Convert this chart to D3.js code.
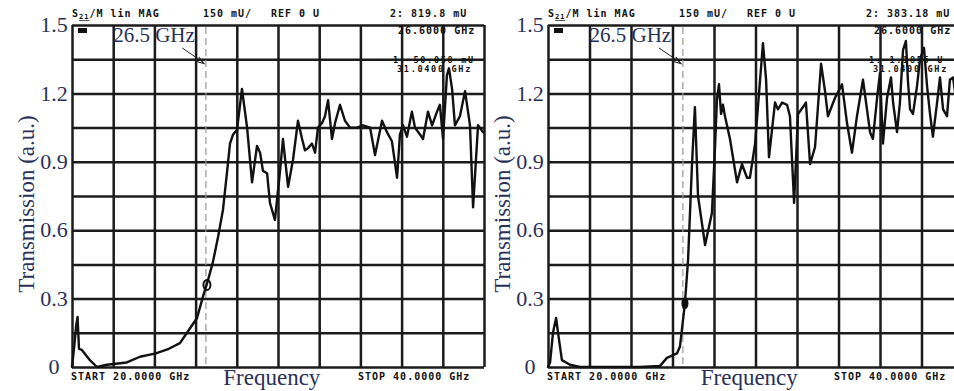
<!DOCTYPE html>
<html>
<head>
<meta charset="utf-8">
<script src="https://cdn.jsdelivr.net/npm/d3@7"></script>
<style>
  html, body { margin: 0; padding: 0; background: #fff; }
  svg { display: block; }
  .serif { font-family: "Liberation Serif", "Times New Roman", serif; fill: #2a3159; }
  .vna { font-family: "DejaVu Sans Mono", monospace; font-weight: bold; font-size: 10px; letter-spacing: 1.0px; fill: #111; }
  .vna-small { font-family: "DejaVu Sans Mono", monospace; font-weight: bold; font-size: 8.5px; letter-spacing: 1.7px; fill: #111; }
</style>
</head>
<body>
<svg id="chart" width="954" height="391"></svg>
<script>
// Sweep 20–40 GHz, transmission in arbitrary units
const leftFreq = [20.00, 20.12, 20.20, 20.27, 20.34, 20.48, 20.87, 21.21, 21.70, 22.66, 23.30, 24.07, 24.70, 25.24, 25.73, 26.07, 26.36, 26.60, 26.84, 27.09, 27.33, 27.52, 27.67, 27.82, 28.01, 28.25, 28.50, 28.74, 28.98, 29.13, 29.27, 29.47, 29.61, 29.85, 30.10, 30.24, 30.49, 30.73, 30.97, 31.17, 31.31, 31.46, 31.65, 31.80, 31.94, 32.14, 32.28, 32.43, 32.62, 32.77, 33.01, 33.25, 33.50, 33.83, 34.13, 34.47, 34.71, 35.05, 35.29, 35.53, 35.78, 35.92, 36.07, 36.26, 36.50, 36.65, 36.89, 37.04, 37.28, 37.48, 37.72, 37.86, 38.01, 38.20, 38.30, 38.45, 38.59, 38.83, 39.08, 39.32, 39.47, 39.71, 39.95];
const leftTrans = [0.00, 0.10, 0.18, 0.22, 0.08, 0.075, 0.03, 0.00, 0.01, 0.02, 0.045, 0.06, 0.08, 0.105, 0.17, 0.215, 0.31, 0.38, 0.46, 0.57, 0.69, 0.85, 0.98, 1.02, 1.04, 1.22, 1.05, 0.81, 0.97, 0.94, 0.86, 0.85, 0.72, 0.645, 0.86, 1.00, 0.79, 0.91, 1.08, 1.00, 0.95, 0.96, 0.98, 0.94, 1.05, 1.07, 1.10, 1.17, 1.00, 1.07, 1.15, 1.08, 1.05, 1.05, 1.06, 1.05, 0.93, 1.08, 1.03, 0.99, 0.83, 1.02, 1.06, 1.01, 1.12, 1.05, 1.02, 1.00, 1.12, 1.06, 1.12, 1.15, 1.00, 1.28, 1.31, 1.22, 1.06, 1.10, 1.21, 1.06, 0.70, 1.06, 1.03];

const rightFreq = [20.00, 20.10, 20.24, 20.39, 20.53, 20.67, 21.06, 21.54, 22.51, 23.47, 24.43, 25.40, 25.73, 26.22, 26.36, 26.60, 26.75, 26.94, 27.08, 27.23, 27.57, 27.90, 28.05, 28.14, 28.24, 28.34, 28.43, 28.53, 28.77, 29.11, 29.35, 29.59, 29.73, 29.98, 30.22, 30.36, 30.51, 30.65, 30.94, 31.08, 31.28, 31.52, 31.66, 31.86, 32.05, 32.29, 32.43, 32.63, 32.87, 33.16, 33.35, 33.49, 33.83, 34.17, 34.41, 34.65, 34.89, 35.18, 35.52, 35.66, 35.86, 36.00, 36.14, 36.34, 36.53, 36.63, 36.82, 36.96, 37.11, 37.25, 37.35, 37.45, 37.59, 37.78, 37.93, 38.12, 38.27, 38.41, 38.55, 38.75, 38.89, 39.04, 39.23, 39.37, 39.52, 39.70];
const rightTrans = [0.00, 0.02, 0.15, 0.215, 0.12, 0.03, 0.01, 0.00, 0.00, 0.00, 0.00, 0.005, 0.04, 0.06, 0.09, 0.28, 0.47, 0.89, 1.14, 0.75, 0.535, 0.675, 0.965, 1.17, 1.24, 1.11, 1.15, 1.10, 1.00, 0.81, 0.89, 0.83, 0.83, 0.98, 1.26, 1.42, 1.26, 0.92, 1.16, 1.13, 1.16, 1.15, 1.10, 0.72, 1.11, 1.14, 1.16, 0.89, 0.965, 1.33, 1.21, 1.10, 1.18, 1.24, 1.07, 0.94, 1.10, 1.26, 1.03, 1.00, 1.18, 1.29, 0.98, 1.18, 1.27, 1.16, 1.03, 1.16, 1.39, 1.43, 1.25, 1.13, 1.11, 1.23, 1.35, 1.40, 1.23, 1.11, 1.01, 1.16, 1.27, 1.13, 1.10, 1.26, 1.27, 1.15];

const yTickValues = [0, 0.3, 0.6, 0.9, 1.2, 1.5];
const yTickLabels = ["0", "0.3", "0.6", "0.9", "1.2", "1.5"];
const gridY = [0, 0.15, 0.3, 0.45, 0.6, 0.75, 0.9, 1.05, 1.2, 1.35, 1.5];
const gridX = [20, 22, 24, 26, 28, 30, 32, 34, 36, 38, 40];
const bandEdge = 26.5;
const markerFreq = [26.55, 26.60];
const markerTrans = [0.36, 0.28];
const headerLeft = ["150 mU/", "REF 0 U"];
const headerMarker2 = ["2: 819.8 mU", "2: 383.18 mU"];
const headerFreq2 = "26.6000 GHz";
const markerLine1 = ["1: 50.058 mU", "1: 1.1856 U"];
const markerLine2 = "31.0400 GHz";
const startLabel = "START 20.0000 GHz";
const stopLabel = "STOP 40.0000 GHz";

const svg = d3.select("#chart");
const plotTop = 25, plotBottom = 367;
const y = d3.scaleLinear().domain([0, 1.5]).range([plotBottom, plotTop]);

const panels = [
  { left: 72, right: 484, freq: leftFreq, trans: leftTrans, idx: 0, markerStyle: "ring" },
  { left: 548, right: 963, freq: rightFreq, trans: rightTrans, idx: 1, markerStyle: "dot" }
];

panels.forEach(p => {
  const x = d3.scaleLinear().domain([20, 40]).range([p.left, p.right]);
  const g = svg.append("g");

  // grid of the analyser screen
  const gy = g.append("g").attr("transform", `translate(${p.left},0)`)
    .call(d3.axisLeft(y).tickValues(gridY).tickSize(-(p.right - p.left)).tickFormat(""));
  gy.select(".domain").remove();
  gy.selectAll("line").attr("stroke", "#1b1b1b").attr("stroke-width", 2.5);

  const gx = g.append("g").attr("transform", `translate(0,${plotBottom})`)
    .call(d3.axisBottom(x).tickValues(gridX).tickSize(-(plotBottom - plotTop)).tickFormat(""));
  gx.select(".domain").remove();
  gx.selectAll("line").attr("stroke", "#1b1b1b").attr("stroke-width", 2.5);

  // dashed line at the band edge
  g.append("line")
    .attr("x1", x(bandEdge)).attr("x2", x(bandEdge))
    .attr("y1", y(1.5) + 2).attr("y2", y(0))
    .attr("stroke", "#9a9a9a").attr("stroke-width", 1.2).attr("stroke-dasharray", "7,4");

  // measured trace
  const line = d3.line().x(i => x(p.freq[i])).y(i => y(p.trans[i])).curve(d3.curveLinear);
  g.append("path")
    .attr("d", line(d3.range(p.freq.length)))
    .attr("fill", "none").attr("stroke", "#111").attr("stroke-width", 2.4)
    .attr("stroke-linejoin", "round").attr("stroke-linecap", "round");

  // marker 2
  const mx = x(markerFreq[p.idx]), my = y(markerTrans[p.idx]);
  if (p.markerStyle === "ring") {
    g.append("ellipse").attr("cx", mx).attr("cy", my).attr("rx", 3.5).attr("ry", 5)
      .attr("fill", "none").attr("stroke", "#111").attr("stroke-width", 2);
  } else {
    g.append("ellipse").attr("cx", mx).attr("cy", my).attr("rx", 3.5).attr("ry", 6).attr("fill", "#111");
  }

  // y tick labels
  const ty = g.append("g").attr("transform", `translate(${p.left - 18},0)`)
    .call(d3.axisLeft(y).tickValues(yTickValues).tickSize(0).tickPadding(0)
      .tickFormat((d, i) => yTickLabels[i]));
  ty.select(".domain").remove();
  ty.attr("font-family", null).attr("font-size", null);
  ty.selectAll("text")
    .attr("class", "serif").attr("text-anchor", "middle").attr("x", 0).attr("dy", "0.3em")
    .attr("font-size", 22).attr("fill", null);

  // axis titles
  svg.append("text").attr("class", "serif")
    .attr("transform", `translate(${p.left - 38},${(plotTop + plotBottom) / 2 + 8}) rotate(-90)`)
    .attr("text-anchor", "middle").attr("font-size", 23).text("Transmission (a.u.)");
  svg.append("text").attr("class", "serif")
    .attr("x", x(29.7)).attr("y", 385).attr("text-anchor", "middle").attr("font-size", 23).text("Frequency");

  // band edge annotation
  svg.append("text").attr("class", "serif")
    .attr("x", x(22.0)).attr("y", 42).attr("font-size", 21).text("26.5 GHz");
  svg.append("line")
    .attr("x1", x(25.35)).attr("y1", 48).attr("x2", x(26.35)).attr("y2", 62)
    .attr("stroke", "#222").attr("stroke-width", 1);
  svg.append("path")
    .attr("d", d3.line()([[x(26.4) - 5, 57], [x(26.4), 63.5], [x(26.4) - 7.5, 61.5]]))
    .attr("fill", "none").attr("stroke", "#222").attr("stroke-width", 1.2);

  // analyser annotations
  const hdr = svg.append("text").attr("class", "vna").attr("x", p.left).attr("y", 17).attr("letter-spacing", "1.3px");
  hdr.append("tspan").text("S");
  hdr.append("tspan").attr("font-size", 7).attr("dy", 2).attr("text-decoration", "underline").text("21");
  hdr.append("tspan").attr("dy", -2).text("/M lin MAG");
  svg.append("text").attr("class", "vna").attr("x", p.left + 131).attr("y", 17).text(headerLeft[0]);
  svg.append("text").attr("class", "vna").attr("x", p.left + 199).attr("y", 17).text(headerLeft[1]);
  svg.append("text").attr("class", "vna").attr("x", p.left + 318).attr("y", 17).text(headerMarker2[p.idx]);
  svg.append("text").attr("class", "vna").attr("x", p.left + 326).attr("y", 34).text(headerFreq2);
  svg.append("text").attr("class", "vna-small").attr("x", p.left + 321).attr("y", 63).text(markerLine1[p.idx]);
  svg.append("text").attr("class", "vna-small").attr("x", p.left + 325).attr("y", 72).text(markerLine2);
  svg.append("rect").attr("x", p.left + 6).attr("y", 28).attr("width", 9).attr("height", 5).attr("fill", "#111");
  svg.append("text").attr("class", "vna").attr("x", p.left - 1).attr("y", 380).attr("letter-spacing", "1.3px").text(startLabel);
  svg.append("text").attr("class", "vna").attr("x", p.left + 286).attr("y", 380).attr("letter-spacing", "1.3px").text(stopLabel);
});
</script>
</body>
</html>
